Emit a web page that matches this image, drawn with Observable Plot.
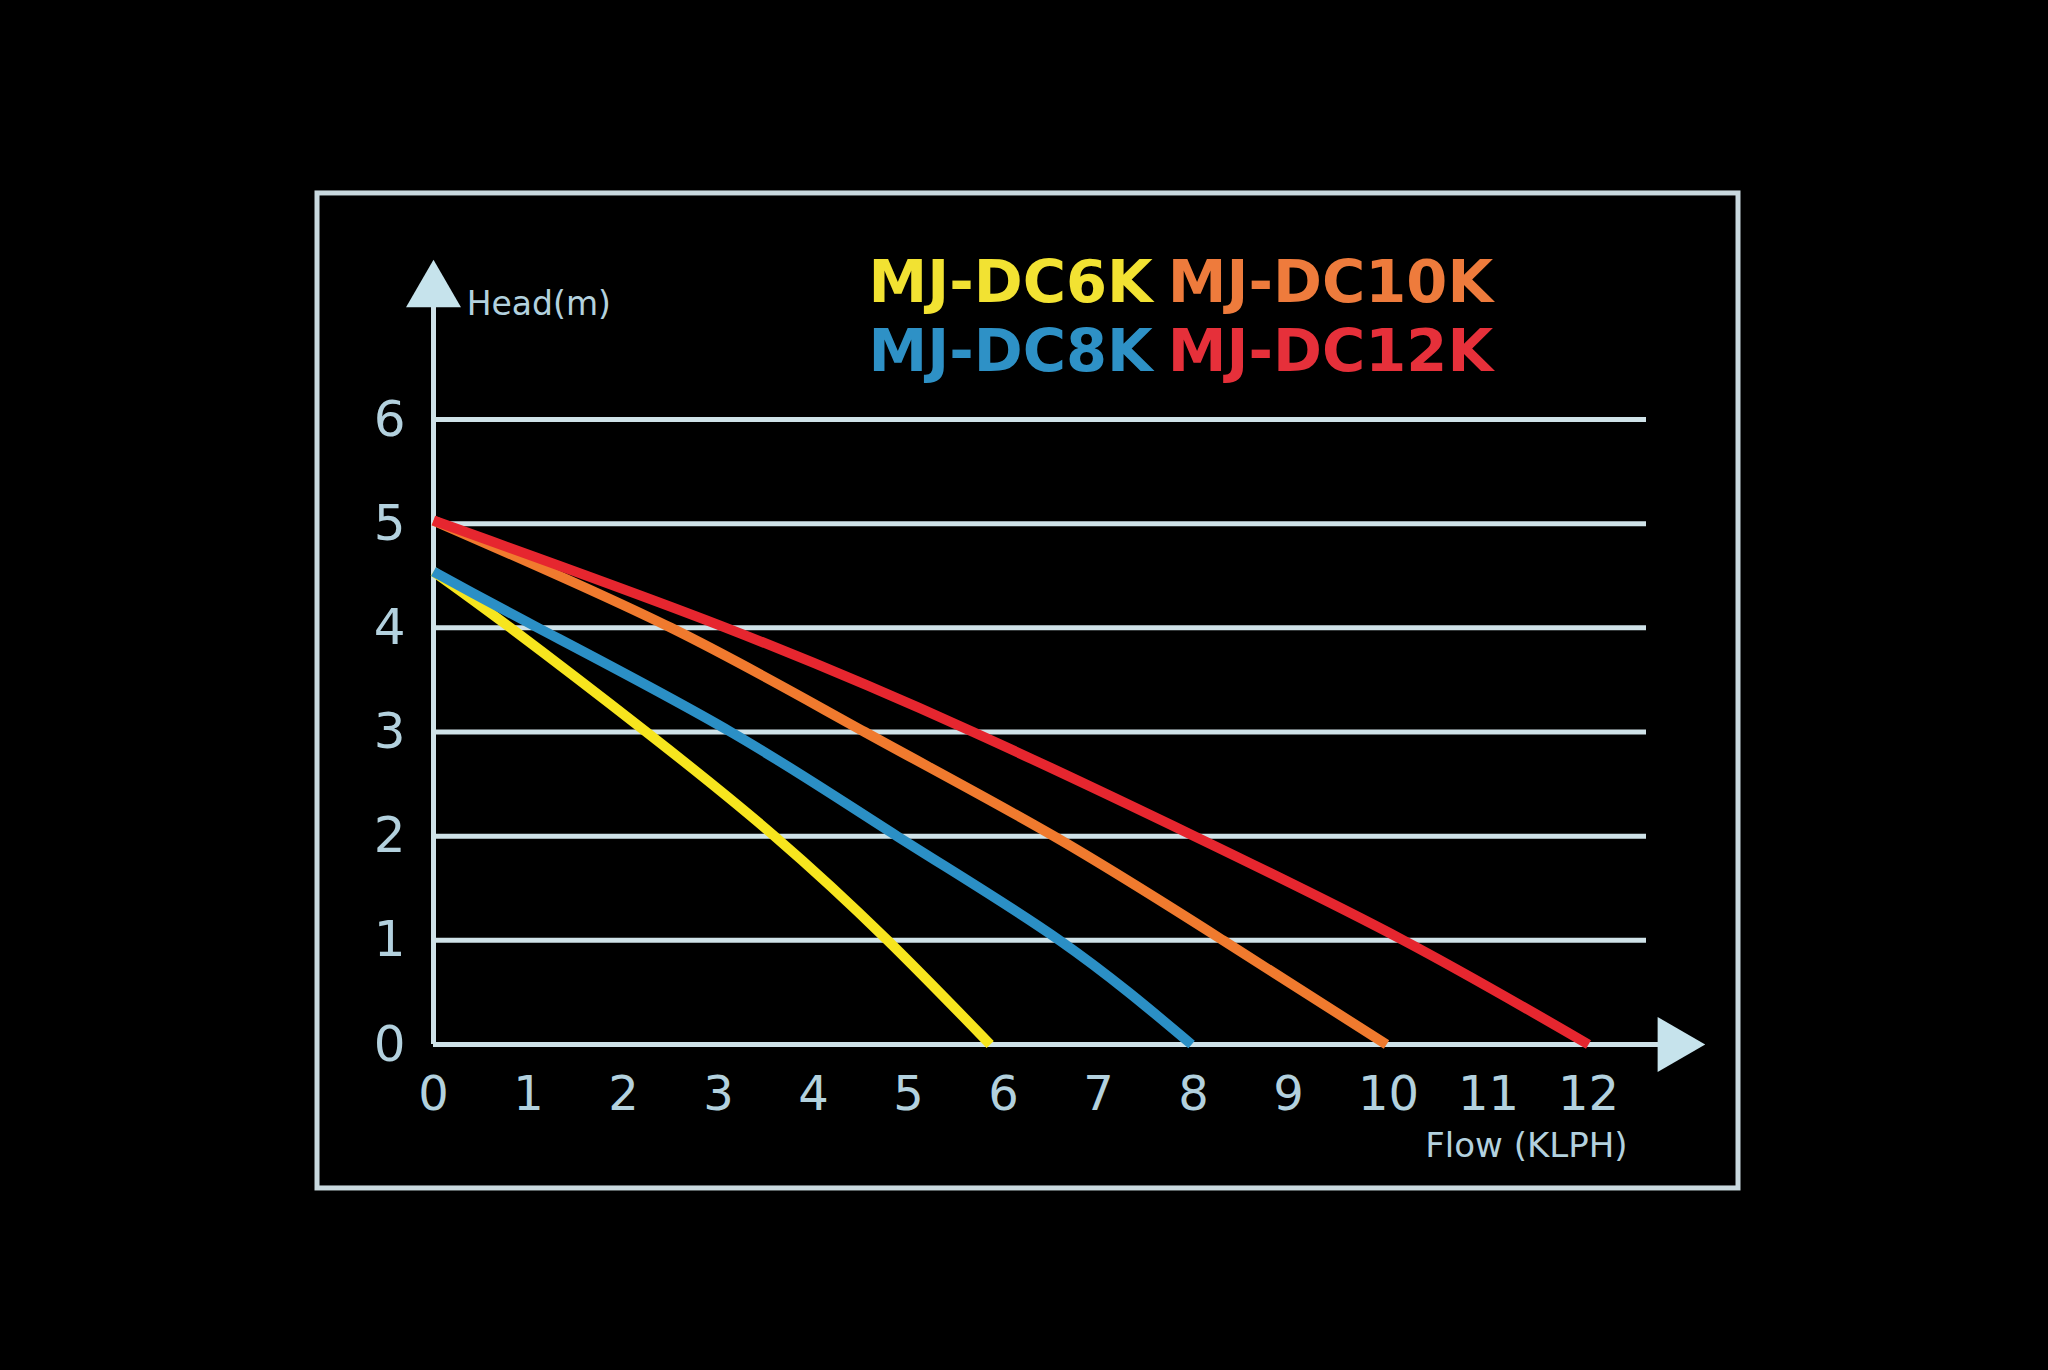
<!DOCTYPE html>
<html>
<head>
<meta charset="utf-8">
<script src="https://cdn.jsdelivr.net/npm/d3@7"></script>
<script src="https://cdn.jsdelivr.net/npm/@observablehq/plot@0.6"></script>
<style>
  html, body { margin: 0; padding: 0; background: #000; }
  #chart svg { display: block; background: #000; }
</style>
</head>
<body>
<div id="chart"></div>
<script>
// ---- data ----
const models = ["MJ-DC6K", "MJ-DC8K", "MJ-DC10K", "MJ-DC12K"];
const lineColors = ["#f7e51e", "#2b8fc5", "#f07a2e", "#e6262f"];
const textColors = ["#f2e232", "#2e91c6", "#ee7b3c", "#e6303a"];

const flow6  = [0, 0.81, 2.24, 3.59, 4.78, 5.86];
const head6  = [4.54, 4, 3, 2, 1, 0];
const flow8  = [0, 1.1, 3.13, 4.88, 6.59, 7.98];
const head8  = [4.54, 4, 3, 2, 1, 0];
const flow10 = [0, 2.5, 4.54, 6.53, 8.31, 9.98];
const head10 = [5.03, 4, 3, 2, 1, 0];
const flow12 = [0, 3.08, 5.68, 8.01, 10.15, 12];
const head12 = [5.03, 4, 3, 2, 1, 0];

const xTicks = [0, 1, 2, 3, 4, 5, 6, 7, 8, 9, 10, 11, 12];
const yTicks = [0, 1, 2, 3, 4, 5, 6];
const gridY = [1, 2, 3, 4, 5, 6];

const yLabel = "Head(m)";
const xLabel = "Flow (KLPH)";

// legend layout: two columns, two rows
const legendCol = [0, 0, 1, 1];
const legendRow = [0, 1, 0, 1];

// ---- build tables ----
const flows = [flow6, flow8, flow10, flow12];
const heads = [head6, head8, head10, head12];
const curves = models.flatMap((m, i) =>
  flows[i].map((f, j) => ({model: m, flow: f, head: heads[i][j]})));
const legend = models.map((m, i) => ({model: m, col: legendCol[i], row: legendRow[i], color: textColors[i]}));

const axisColor = "#cfe2e8";
const labelColor = "#b3d1de";
const font = "'DejaVu Sans', Verdana, sans-serif";

const W = 2048, H = 1370;

const plot = Plot.plot({
  width: W,
  height: H,
  marginLeft: 433,
  marginRight: 360,
  marginTop: 419,
  marginBottom: 326,
  style: {background: "#000", fontFamily: font, overflow: "visible"},
  x: {type: "linear", domain: [0, 9, 13], range: [433, 1288, 1688]},
  y: {domain: [0, 6], range: [1044, 419]},
  color: {domain: models, range: lineColors},
  marks: [
    // outer box
    Plot.rect([{x1: -1.221, x2: 13.5, y1: -1.382, y2: 8.17}], {x1: "x1", x2: "x2", y1: "y1", y2: "y2", fill: "none", stroke: "#c9d9df", strokeWidth: 5}),
    // grid lines
    Plot.ruleY(gridY, {x1: 0, x2: 12.58, stroke: axisColor, strokeWidth: 5}),
    // axes lines
    Plot.ruleY([0], {x1: 0, x2: 12.7, stroke: axisColor, strokeWidth: 5}),
    Plot.ruleX([0], {y1: 0, y2: 7.08, stroke: axisColor, strokeWidth: 5}),
    // arrow heads
    Plot.dot([{x: 0, y: 7.23}], {x: "x", y: "y", symbol: "triangle", r: 20.4, fill: "#c6e3ec", stroke: "none"}),
    Plot.dot([{x: 12.85, y: 0}], {x: "x", y: "y", symbol: "triangle", r: 20.4, rotate: 90, fill: "#c6e3ec", stroke: "none"}),
    // curves
    Plot.line(curves, {x: "flow", y: "head", z: "model", stroke: "model", strokeWidth: 10, curve: "natural", strokeLinecap: "butt"}),
    // tick labels
    Plot.axisX(xTicks, {tickSize: 0, tickPadding: 31, fontSize: 48, fill: labelColor, tickFormat: d => String(d), label: null}),
    Plot.axisY(yTicks, {tickSize: 0, tickPadding: 28, fontSize: 50, fill: labelColor, tickFormat: d => String(d), label: null}),
    // axis titles
    Plot.text([yLabel], {x: 0.35, y: 7.0, text: d => d, textAnchor: "start", lineAnchor: "bottom", fontSize: 33, fill: labelColor}),
    Plot.text([xLabel], {x: 12.39, y: -1.08, text: d => d, textAnchor: "end", lineAnchor: "bottom", fontSize: 34, fill: labelColor}),
    // legend
    Plot.text(legend, {
      x: d => d.col === 0 ? 4.58 : 7.73,
      y: d => d.row === 0 ? 7.13 : 6.47,
      text: "model",
      fill: d => d.color,
      textAnchor: "start",
      lineAnchor: "bottom",
      fontSize: 59,
      fontWeight: "bold"
    })
  ]
});

document.getElementById("chart").appendChild(plot);
</script>
</body>
</html>
